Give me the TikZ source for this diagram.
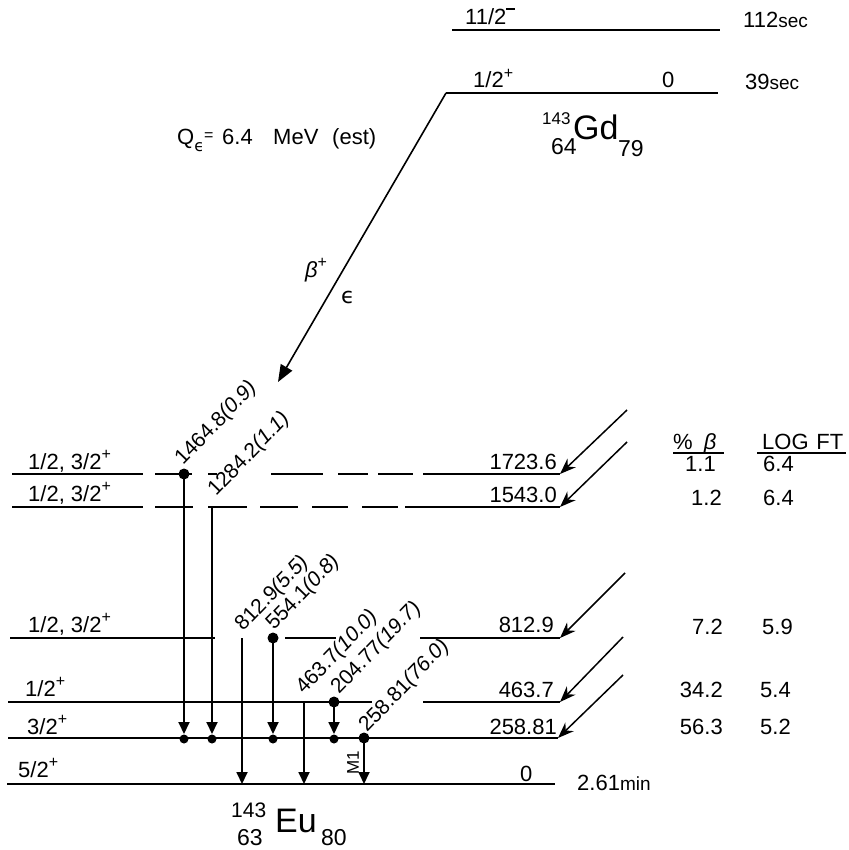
\documentclass[tikz,border=0pt]{standalone}
\usepackage{fontspec}
\setmainfont{Liberation Sans}
\newfontfamily\dvs{DejaVu Sans}
\usetikzlibrary{arrows.meta}
\newcommand{\upl}[1]{\raisebox{0.45em}{\fontsize{16}{16}\selectfont #1}}
\newcommand{\upm}{\raisebox{0.68em}{\rule{9pt}{1.6pt}}}
\tikzset{
  lvl/.style={line width=2pt},
  gam/.style={line width=1.8pt,-{Triangle[length=12pt,width=11pt]}},
  feed/.style={line width=1.5pt,-{Stealth[length=16pt,width=12pt]}},
  dotc/.style={circle,fill,inner sep=0pt,minimum size=11pt},
  edot/.style={circle,fill,inner sep=0pt,minimum size=9pt},
  txt/.style={font=\fontsize{22}{26}\selectfont,inner sep=0pt},
  glab/.style={font=\fontsize{21}{24}\selectfont,inner sep=0pt,rotate=46,anchor=base west},
}
\begin{document}
\begin{tikzpicture}[x=1pt,y=-1pt]
\useasboundingbox (0,0) rectangle (848,850);
% ---------- parent ----------
\draw[lvl] (452,30) -- (720,30);
\node[txt,anchor=base west] (p1) at (465,25) {11/2\upm};
\node[txt,anchor=base west] (p1t) at (743,28) {112{\fontsize{19}{19}\selectfont sec}};
\coordinate (gs) at (446,93);
\draw[lvl] (gs) -- (718,93);
\node[txt,anchor=base west] (p0) at (473,88) {1/2\upl{+}};
\node[txt,anchor=base west] (p0e) at (662,88) {0};
\node[txt,anchor=base west] (p0t) at (745,90) {39{\fontsize{19}{19}\selectfont sec}};
\node[font=\fontsize{17}{17}\selectfont,inner sep=0pt,anchor=base west] (gdA) at (542,125) {143};
\node[font=\fontsize{34}{34}\selectfont,inner sep=0pt,anchor=base west] (gdB) at (573,140) {Gd};
\node[font=\fontsize{23}{23}\selectfont,inner sep=0pt,anchor=base west] (gdC) at (551,155) {64};
\node[font=\fontsize{23}{23}\selectfont,inner sep=0pt,anchor=base west] (gdD) at (618,157) {79};
% Q value
\node[txt,anchor=base west] (q1) at (177,145) {Q\raisebox{-0.3em}{\dvs\fontsize{16}{16}\selectfont ϵ}\raisebox{0.2em}{\fontsize{16}{16}\selectfont =}};
\node[txt,anchor=base west] (q2) at (222,145) {6.4};
\node[txt,anchor=base west] (q3) at (273,145) {MeV};
\node[txt,anchor=base west] (q4) at (332,145) {(est)};
% main beta arrow
\coordinate (bt) at (278,382);
\draw[line width=1.6pt,-{Triangle[length=17pt,width=13pt]}] (gs) -- (bt);
\node[txt] (bp) at (316,270) {\textit{β}\upl{+}};
\node[font=\dvs\fontsize{22}{22}\selectfont,inner sep=0pt] (ec) at (348,297) {ϵ};
% ---------- daughter levels ----------
% 1723.6
\foreach \a/\b in {12/143,155/192,208/217,271/323,338/368,378/413}
  \draw[lvl] (\a,474) -- (\b,474);
\coordinate (l1e) at (560,474);
\draw[lvl] (423,474) -- (l1e);
% 1543.0
\foreach \a/\b in {12/143,155/193,208/247,260/298,312/348,362/398}
  \draw[lvl] (\a,507) -- (\b,507);
\coordinate (l2e) at (560,507);
\draw[lvl] (405,507) -- (l2e);
% 812.9
\draw[lvl] (10,638) -- (215,638);
\draw[lvl] (285,638) -- (336,638);
\coordinate (l3e) at (560,638);
\draw[lvl] (420,638) -- (l3e);
% 463.7
\draw[lvl] (8,702) -- (372,702);
\coordinate (l4e) at (560,702);
\draw[lvl] (423,702) -- (l4e);
% 258.81
\coordinate (l5e) at (558,738);
\draw[lvl] (8,738) -- (l5e);
% 0
\draw[lvl] (7,784) -- (555,784);
% left labels
\node[txt,anchor=base west] (s1) at (28,469) {1/2, 3/2\upl{+}};
\node[txt,anchor=base west] (s2) at (28,501) {1/2, 3/2\upl{+}};
\node[txt,anchor=base west] (s3) at (28,632) {1/2, 3/2\upl{+}};
\node[txt,anchor=base west] (s4) at (25,696) {1/2\upl{+}};
\node[txt,anchor=base west] (s5) at (27,734) {3/2\upl{+}};
\node[txt,anchor=base west] (s6) at (18,777) {5/2\upl{+}};
% energies
\node[txt,anchor=base east] (e1) at (557,469) {1723.6};
\node[txt,anchor=base east] (e2) at (557,502) {1543.0};
\node[txt,anchor=base east] (e3) at (554,632) {812.9};
\node[txt,anchor=base east] (e4) at (554,697) {463.7};
\node[txt,anchor=base east] (e5) at (557,734) {258.81};
\node[txt,anchor=base west] (e6) at (520,781) {0};
\node[txt,anchor=base west] (e6t) at (577,790) {2.61{\fontsize{19}{19}\selectfont min}};
% feeding arrows
\coordinate (f1) at (627,410);
\coordinate (f2) at (627,442);
\coordinate (f3) at (625,573);
\coordinate (f4) at (623,637);
\coordinate (f5) at (623,675);
\draw[feed] (f1) -- (l1e);
\draw[feed] (f2) -- (l2e);
\draw[feed] (f3) -- (l3e);
\draw[feed] (f4) -- (l4e);
\draw[feed] (f5) -- (l5e);
% table
\node[txt,anchor=base west] (h1) at (673,449) {\%\hspace{0.5em}\textit{β}};
\node[txt,anchor=base west] (h2) at (762,449) {LOG\hspace{0.35em}FT};
\draw[line width=1.5pt] (673,453) -- (724,453);
\draw[line width=1.5pt] (757,453) -- (846,453);
\node[txt,anchor=base east] (b1) at (716,471) {1.1};
\node[txt,anchor=base west] (t1) at (763,471) {6.4};
\node[txt,anchor=base east] (b2) at (722,505) {1.2};
\node[txt,anchor=base west] (t2) at (763,505) {6.4};
\node[txt,anchor=base east] (b3) at (723,634) {7.2};
\node[txt,anchor=base west] (t3) at (762,634) {5.9};
\node[txt,anchor=base east] (b4) at (723,697) {34.2};
\node[txt,anchor=base west] (t4) at (760,697) {5.4};
\node[txt,anchor=base east] (b5) at (723,734) {56.3};
\node[txt,anchor=base west] (t5) at (760,734) {5.2};
% ---------- gammas ----------
\node[dotc] (g1s) at (184,474) {};
\coordinate (g1e) at (184,734);
\draw[gam] (g1s.center) -- (g1e);
\node[edot] (g1d) at (184,739) {};
\coordinate (g2s) at (212,507);
\coordinate (g2e) at (212,734);
\draw[gam] (g2s) -- (g2e);
\node[edot] (g2d) at (212,739) {};
\coordinate (g3s) at (242,638);
\coordinate (g3e) at (242,784);
\draw[gam] (g3s) -- (g3e);
\node[dotc] (g4s) at (273,638) {};
\coordinate (g4e) at (273,734);
\draw[gam] (g4s.center) -- (g4e);
\node[edot] (g4d) at (273,739) {};
\coordinate (g5s) at (304,702);
\coordinate (g5e) at (304,784);
\draw[gam] (g5s) -- (g5e);
\node[dotc] (g6s) at (334,702) {};
\coordinate (g6e) at (334,734);
\draw[gam] (g6s.center) -- (g6e);
\node[edot] (g6d) at (334,739) {};
\node[dotc] (g7s) at (364,738) {};
\coordinate (g7e) at (364,784);
\draw[gam] (g7s.center) -- (g7e);
\node[font=\fontsize{17}{17}\selectfont,inner sep=0pt,rotate=90] (m1) at (353,763) {M1};
% gamma labels
\node[glab] (L1) at (183,466) {1464.8\textit{(0.9)}};
\node[glab] (L2) at (216,497) {1284.2\textit{(1.1)}};
\node[glab] (L3) at (243,632) {812.9\textit{(5.5)}};
\node[glab] (L4) at (274,631) {554.1\textit{(0.8)}};
\node[glab] (L5) at (304,695) {463.7\textit{(10.0)}};
\node[glab] (L6) at (339,695) {204.77\textit{(19.7)}};
\node[glab] (L7) at (367,733) {258.81\textit{(76.0)}};
% daughter name
\node[font=\fontsize{21}{21}\selectfont,inner sep=0pt,anchor=base west] (euA) at (231,817) {143};
\node[font=\fontsize{34}{34}\selectfont,inner sep=0pt,anchor=base west] (euB) at (275,832) {Eu};
\node[font=\fontsize{23}{23}\selectfont,inner sep=0pt,anchor=base west] (euC) at (237,845) {63};
\node[font=\fontsize{23}{23}\selectfont,inner sep=0pt,anchor=base west] (euD) at (321,845) {80};
\end{tikzpicture}
\end{document}
